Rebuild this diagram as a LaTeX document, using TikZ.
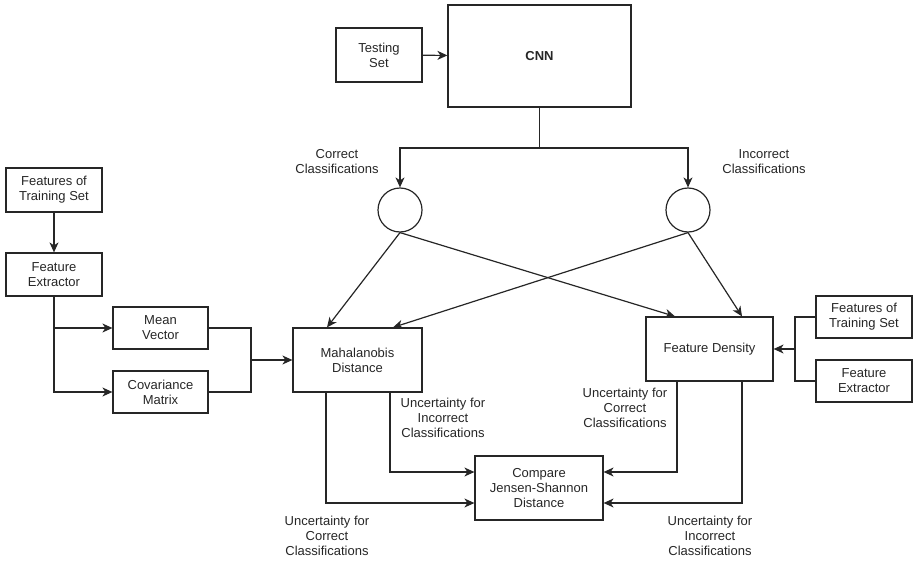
\documentclass[tikz,border=0pt]{standalone}
\usepackage{fontspec}
\setmainfont{Liberation Sans}
\usetikzlibrary{arrows.meta}

\begin{document}
\begin{tikzpicture}[x=1pt,y=-1pt,
    font=\fontsize{13}{15}\selectfont,
    line width=1.2pt,black!85,
    box/.style={draw,align=center,inner sep=2pt},
    ring/.style={draw,circle,minimum size=44pt,inner sep=0pt},
    lbl/.style={align=center},
    arr/.style={-{Stealth[length=10pt,width=9pt,inset=3pt]}}]
  \useasboundingbox (0,0) rectangle (913,562);
  % --- network and its two outputs ---
  \node[box,minimum width=86pt,minimum height=54pt] (test) at (379,55) {Testing\\Set};
  \node[box,minimum width=183pt,minimum height=102pt,font=\fontsize{13}{15}\selectfont\bfseries]
    (cnn) at (539.5,56) {CNN};
  \node[ring] (circL) at (400,210) {};
  \node[ring] (circR) at (688,210) {};
  \node[lbl] (lblCorr) at (337,162) {Correct\\Classifications};
  \node[lbl] (lblInc) at (764,162) {Incorrect\\Classifications};
  \coordinate (fork) at (539.5,148);
  \draw[arr] (test) -- (cnn);
  \draw (cnn) -- (fork);
  \draw[arr] (fork) -| (circL);
  \draw[arr] (fork) -| (circR);
  % --- left: features of the training set ---
  \node[box,minimum width=96pt,minimum height=44pt] (fts1) at (54,190) {Features of\\Training Set};
  \node[box,minimum width=96pt,minimum height=43pt] (fe1) at (54,274.5) {Feature\\Extractor};
  \node[box,minimum width=95pt,minimum height=42pt] (mean) at (160.5,328) {Mean\\Vector};
  \node[box,minimum width=95pt,minimum height=42pt] (cov) at (160.5,392) {Covariance\\Matrix};
  \node[box,minimum width=129pt,minimum height=64pt] (maha) at (357.5,360) {Mahalanobis\\Distance};
  \coordinate (mergeL) at (251,360);
  \draw[arr] (fts1) -- (fe1);
  \draw[arr] (fe1.south) |- (cov.west);
  \draw[arr] (fe1.south |- mean.west) -- (mean.west);
  \draw (mean.east) -| (mergeL);
  \draw (cov.east) -| (mergeL);
  \draw[arr] (mergeL) -- (maha.west);
  % --- right: density model ---
  \node[box,minimum width=127pt,minimum height=64pt] (fd) at (709.5,349) {Feature Density};
  \node[box,minimum width=96pt,minimum height=42pt] (fts2) at (864,317) {Features of\\Training Set};
  \node[box,minimum width=96pt,minimum height=42pt] (fe2) at (864,381) {Feature\\Extractor};
  \coordinate (mergeR) at (795,349);
  \draw (fts2.west) -| (mergeR);
  \draw (fe2.west) -| (mergeR);
  \draw[arr] (mergeR) -- (fd.east);
  % crossing lines, all leaving from the bottom of the circles
  \draw[arr] (circL.south) -- ([xshift=-30.5pt]maha.north);
  \draw[arr] (circR.south) -- ([xshift=35.5pt]maha.north);
  \draw[arr] (circL.south) -- ([xshift=-34.5pt]fd.north);
  \draw[arr] (circR.south) -- ([xshift=32.5pt]fd.north);
  % --- comparison ---
  \node[box,minimum width=128pt,minimum height=64pt] (cmp) at (539,488) {Compare\\Jensen-Shannon\\Distance};
  \draw[arr] ([xshift=-31.5pt]maha.south) |- ([yshift=-15pt]cmp.west);
  \draw[arr] ([xshift=32.5pt]maha.south) |- ([yshift=16pt]cmp.west);
  \draw[arr] ([xshift=-32.5pt]fd.south) |- ([yshift=16pt]cmp.east);
  \draw[arr] ([xshift=32.5pt]fd.south) |- ([yshift=-15pt]cmp.east);
  \node[lbl] (uIncL) at (443,418) {Uncertainty for\\Incorrect\\Classifications};
  \node[lbl] (uCorR) at (625,408) {Uncertainty for\\Correct\\Classifications};
  \node[lbl] (uCorL) at (327,536) {Uncertainty for\\Correct\\Classifications};
  \node[lbl] (uIncR) at (710,536) {Uncertainty for\\Incorrect\\Classifications};
\end{tikzpicture}
\end{document}
